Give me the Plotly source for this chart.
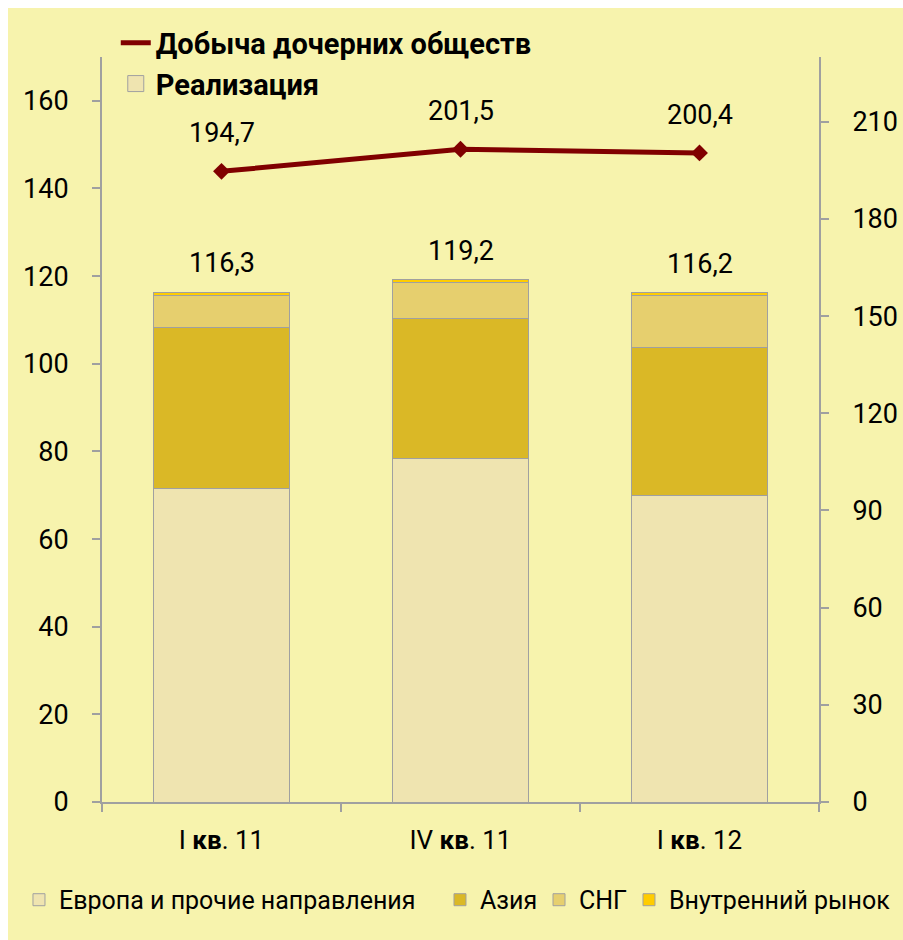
import plotly.graph_objects as go

categories = ["I кв. 11", "IV кв. 11", "I кв. 12"]
tick_labels = ["I <b>кв</b>. 11", "IV <b>кв</b>. 11", "I <b>кв</b>. 12"]
europe = [71.6, 78.3, 70.0]
asia = [36.6, 32.1, 33.8]
cis = [7.4, 8.1, 11.7]
domestic = [0.7, 0.7, 0.7]
totals = [116.3, 119.2, 116.2]
production = [194.7, 201.5, 200.4]

FONT = "Roboto"
BG = "#F7F3AD"
GRAY = "#A0A0A0"
DARKRED = "#800000"

fig = go.Figure()

series = [
    ("Европа и прочие направления", europe, "#EFE4B0", "legend2"),
    ("Азия", asia, "#DAB826", "legend3"),
    ("СНГ", cis, "#E6CF6E", "legend4"),
    ("Внутренний рынок", domestic, "#FFCC00", "legend5"),
]
for name, vals, col, leg in series:
    fig.add_trace(go.Bar(
        x=categories, y=vals, name=name, marker_color=col,
        marker_line=dict(color=GRAY, width=1), legend=leg,
    ))

fig.add_trace(go.Scatter(
    x=categories, y=production, yaxis="y2", name="Добыча дочерних обществ",
    mode="lines+markers", line=dict(color=DARKRED, width=5),
    marker=dict(symbol="diamond", size=13, color=DARKRED), showlegend=False,
))
# legend-only entries for the upper legend
fig.add_trace(go.Scatter(
    x=[None], y=[None], yaxis="y2", name="Добыча дочерних обществ",
    mode="lines", line=dict(color=DARKRED, width=5), legend="legend",
))
fig.add_trace(go.Scatter(
    x=[None], y=[None], name="Реализация", mode="markers",
    marker=dict(symbol="square", size=17, color="#EFE4B0",
                line=dict(color=GRAY, width=1)),
    legend="legend",
))

def fmt(v):
    return f"{v:.1f}".replace(".", ",")

for c, t in zip(categories, totals):
    fig.add_annotation(x=c, y=t, text=fmt(t), showarrow=False, yanchor="bottom",
                       yshift=11, font=dict(size=27, family=FONT, color="black"))
for c, p in zip(categories, production):
    fig.add_annotation(x=c, y=p, yref="y2", text=fmt(p), showarrow=False,
                       yanchor="bottom", yshift=20,
                       font=dict(size=27, family=FONT, color="black"))

axis_common = dict(showline=True, linecolor=GRAY, linewidth=2, ticks="outside",
                   ticklen=8, tickcolor=GRAY, tickwidth=2, showgrid=False)

bottom_legend = dict(y=-0.1315, xanchor="left", yanchor="middle", orientation="h",
                     bgcolor="rgba(0,0,0,0)", itemwidth=30,
                     font=dict(size=25, family=FONT, color="black"))

fig.update_layout(
    width=895, height=932,
    margin=dict(l=94, r=84, t=49, b=138, autoexpand=False),
    paper_bgcolor=BG, plot_bgcolor=BG,
    barmode="stack", bargap=0.427,
    font=dict(family=FONT, size=26, color="black"),
    xaxis=dict(tickvals=categories, ticktext=tick_labels, tickson="boundaries",
               ticklabelstandoff=14, tickfont=dict(size=26, family=FONT),
               **axis_common),
    yaxis=dict(range=[0, 170], tickvals=[0, 20, 40, 60, 80, 100, 120, 140, 160],
               zeroline=False, ticklabelstandoff=18,
               tickfont=dict(size=27, family=FONT), **axis_common),
    yaxis2=dict(range=[0, 230], tickvals=[0, 30, 60, 90, 120, 150, 180, 210],
                overlaying="y", side="right", zeroline=False, ticklabelstandoff=18,
                tickfont=dict(size=27, family=FONT), **axis_common),
    legend=dict(x=0.0192, y=1.053, xanchor="left", yanchor="top", orientation="v",
                traceorder="normal", bgcolor="rgba(0,0,0,0)",
                font=dict(size=29, family=FONT, color="black", weight="bold"),
                itemwidth=30, tracegroupgap=0),
    legend2=dict(x=-0.1158, **bottom_legend),
    legend3=dict(x=0.4714, **bottom_legend),
    legend4=dict(x=0.6095, **bottom_legend),
    legend5=dict(x=0.7350, **bottom_legend),
    showlegend=True,
)

fig.write_html("out.html", post_script="document.body.style.margin='8px 0 0 8px';")
